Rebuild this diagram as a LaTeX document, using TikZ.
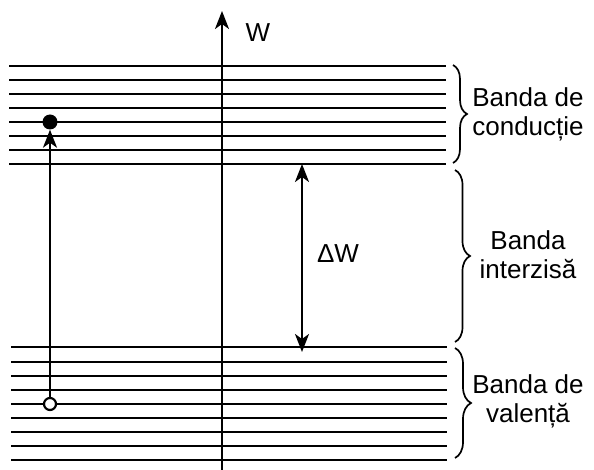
\documentclass[tikz,border=0pt]{standalone}
\usepackage{fontspec}
\setmainfont{Liberation Sans}
\usetikzlibrary{arrows.meta,decorations.pathreplacing}
\begin{document}
\begin{tikzpicture}[x=1pt,y=-1pt,
  level/.style={line width=2pt},
  thick line/.style={line width=2.2pt},
  tipped/.style={-{Stealth[length=18pt,width=14pt,inset=5pt]}},
  twotipped/.style={{Stealth[length=18pt,width=14pt,inset=5pt]}-{Stealth[length=18pt,width=14pt,inset=5pt]}},
  bracket/.style={line width=1.7pt,decorate,decoration={brace,amplitude=#1}},
  txt/.style={font=\fontsize{26}{29}\selectfont,align=center,inner sep=0pt}]
\useasboundingbox (0,0) rectangle (594,470);
% conduction band levels
\foreach \y in {66,80,...,164}
  \draw[level] (9,\y) -- (446,\y);
% valence band levels
\foreach \y in {347,362,376,390,404,418,432,446,460}
  \draw[level] (11,\y) -- (447,\y);
% energy axis
\coordinate (axbot) at (222,470);
\coordinate (axtop) at (222,11);
\draw[thick line,tipped] (axbot) -- (axtop);
\node[txt] (wlab) at (258,33) {W};
% electron and hole
\node[circle,fill=black,inner sep=0pt,minimum size=15pt] (el) at (50,122) {};
\node[circle,draw=black,line width=2.2pt,fill=white,inner sep=0pt,minimum size=12pt] (ho) at (50,404) {};
\draw[thick line,tipped] (ho) -- (el);
% band gap
\coordinate (gtop) at (302,164);
\coordinate (gbot) at (302,352);
\draw[thick line,twotipped] (gtop) -- (gbot);
\node[txt] (dw) at (338,254) {ΔW};
% braces
\draw[bracket=14pt] (453,65) -- (453,163);
\draw[bracket=15pt] (455,170) -- (455,342);
\draw[bracket=16pt] (455,348) -- (455,458);
% band names
\node[txt] (cb) at (528,114) {Banda de\\conducție};
\node[txt] (gb) at (528,255) {Banda\\interzisă};
\node[txt] (vb) at (528,401) {Banda de\\valență};
\end{tikzpicture}
\end{document}
